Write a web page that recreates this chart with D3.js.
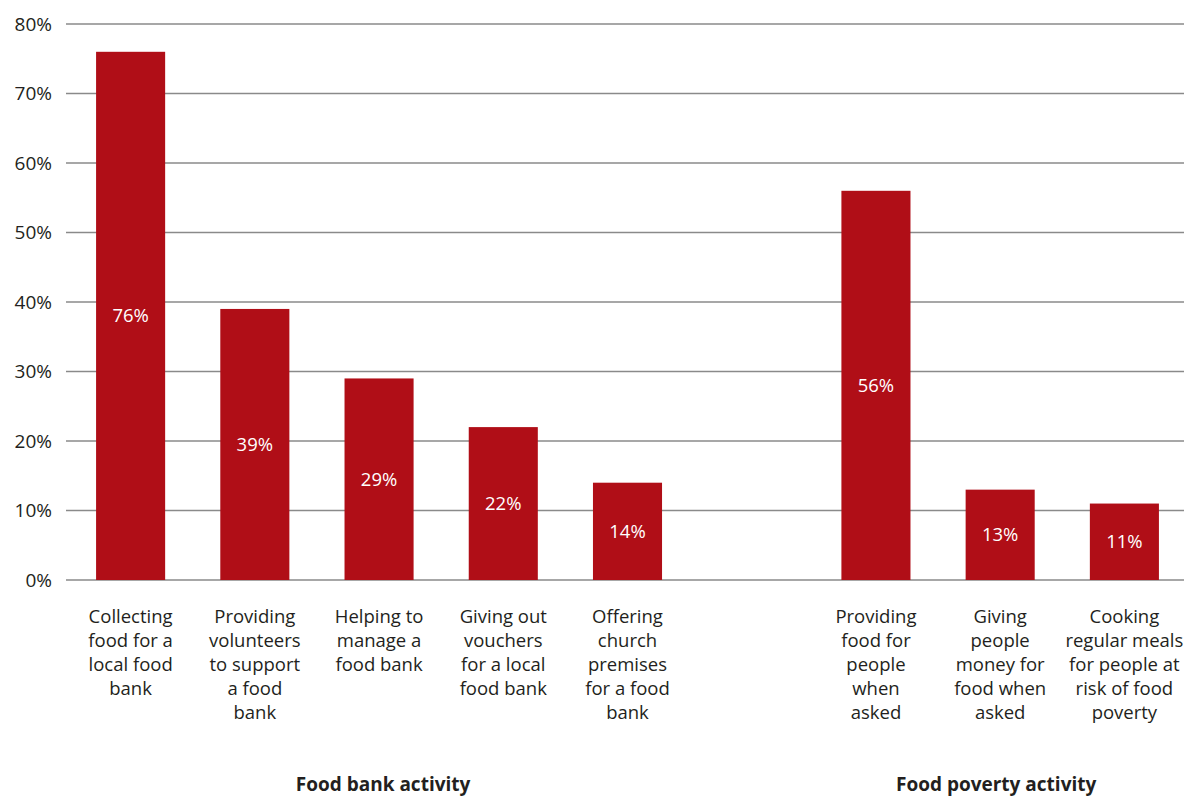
<!DOCTYPE html>
<html>
<head>
<meta charset="utf-8">
<script src="https://cdn.jsdelivr.net/npm/d3@7"></script>
<style>
  html, body { margin: 0; padding: 0; background: #fff; }
  svg { display: block; }
  text { font-family: "Open Sans", "Noto Sans", sans-serif; fill: #231f20; }
</style>
</head>
<body>
<svg id="chart" width="1196" height="796"></svg>
<script>
// ---- data ----
const categories = [
  "Collecting food for a local food bank",
  "Providing volunteers to support a food bank",
  "Helping to manage a food bank",
  "Giving out vouchers for a local food bank",
  "Offering church premises for a food bank",
  "",
  "Providing food for people when asked",
  "Giving people money for food when asked",
  "Cooking regular meals for people at risk of food poverty"
];
const categoryLines = [
  ["Collecting", "food for a", "local food", "bank"],
  ["Providing", "volunteers", "to support", "a food", "bank"],
  ["Helping to", "manage a", "food bank"],
  ["Giving out", "vouchers", "for a local", "food bank"],
  ["Offering", "church", "premises", "for a food", "bank"],
  [],
  ["Providing", "food for", "people", "when", "asked"],
  ["Giving", "people", "money for", "food when", "asked"],
  ["Cooking", "regular meals", "for people at", "risk of food", "poverty"]
];
const values = [76, 39, 29, 22, 14, null, 56, 13, 11];
const yTicks = [0, 10, 20, 30, 40, 50, 60, 70, 80];
const groups = ["Food bank activity", "Food poverty activity"];
const groupMembers = [[0, 4], [6, 8]];

// ---- layout ----
const svg = d3.select("#chart");
const plotLeft = 66, plotRight = 1184, plotTop = 24, plotBottom = 580;

const x = d3.scaleBand()
  .domain(categories.map((c, i) => i))
  .range([plotLeft + 2.5, plotRight + 2.5])
  .paddingInner(0.444)
  .paddingOuter(0.222);

const y = d3.scaleLinear().domain([0, 80]).range([plotBottom, plotTop]);

// gridlines
svg.append("g").selectAll("line")
  .data(yTicks)
  .join("line")
  .attr("x1", plotLeft).attr("x2", plotRight)
  .attr("y1", d => y(d)).attr("y2", d => y(d))
  .attr("stroke", "#8a8a8a")
  .attr("stroke-width", 1.4);

// y tick labels
svg.append("g").selectAll("text")
  .data(yTicks)
  .join("text")
  .attr("x", 52)
  .attr("y", d => y(d))
  .attr("dy", "0.35em")
  .attr("text-anchor", "end")
  .style("font-size", "19px")
  .text(d => d + "%");

// bars
const barData = values.map((v, i) => ({ v, i })).filter(d => d.v !== null);
svg.append("g").selectAll("rect")
  .data(barData)
  .join("rect")
  .attr("x", d => x(d.i))
  .attr("width", x.bandwidth())
  .attr("y", d => y(d.v))
  .attr("height", d => y(0) - y(d.v))
  .attr("fill", "#b00e17");

// value labels
svg.append("g").selectAll("text")
  .data(barData)
  .join("text")
  .attr("x", d => x(d.i) + x.bandwidth() / 2)
  .attr("y", d => (y(d.v) + y(0)) / 2)
  .attr("dy", "0.35em")
  .attr("text-anchor", "middle")
  .style("font-size", "18.5px")
  .style("fill", "#ffffff")
  .text(d => d.v + "%");

// category labels
const catG = svg.append("g");
categoryLines.forEach((lines, i) => {
  const t = catG.append("text")
    .attr("text-anchor", "middle")
    .style("font-size", "18.5px");
  lines.forEach((ln, k) => {
    t.append("tspan")
      .attr("x", x(i) + x.bandwidth() / 2)
      .attr("y", 623 + k * 24)
      .text(ln);
  });
});

// group labels
svg.append("g").selectAll("text")
  .data(groups)
  .join("text")
  .attr("x", (d, i) => {
    const [a, b] = groupMembers[i];
    return (x(a) + x(b) + x.bandwidth()) / 2 + (i === 0 ? 4 : -4);
  })
  .attr("y", 791)
  .attr("text-anchor", "middle")
  .style("font-size", "19px")
  .style("font-weight", "bold")
  .text(d => d);
</script>
</body>
</html>
